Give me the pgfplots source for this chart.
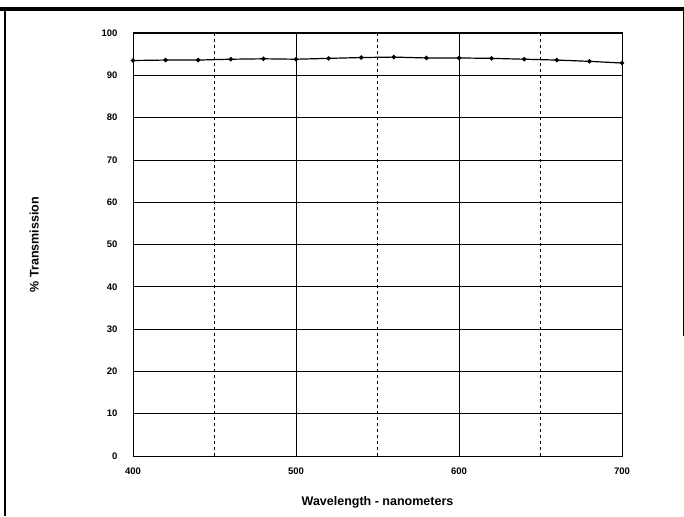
\documentclass[border=0pt]{standalone}
\usepackage{fontspec}
\setmainfont{Liberation Sans}
\usepackage{pgfplots}
\pgfplotsset{compat=1.18}
\begin{document}
\begin{tikzpicture}
\path[use as bounding box] (0pt,0pt) rectangle (684pt,516pt);
\draw[line width=3.5pt] (0pt,507pt) -- (684pt,507pt);
\draw[line width=2pt] (5pt,0pt) -- (5pt,508pt);
\draw[line width=1pt] (683pt,507pt) -- (683pt,180pt);
\begin{axis}[
  at={(133pt,60pt)}, anchor=south west,
  scale only axis, width=489pt, height=423pt,
  xmin=400, xmax=700, ymin=0, ymax=100,
  xtick={400,500,600,700}, minor xtick={450,550,650},
  ytick={0,10,...,100},
  xmajorgrids, xminorgrids, ymajorgrids,
  major grid style={black, line width=0.7pt},
  minor grid style={black, dashed, line width=0.7pt},
  major tick length=0pt, minor tick length=0pt,
  axis line style={black, line width=1pt},
  tick label style={font=\bfseries\fontsize{9.5}{10}\selectfont},
  /pgf/number format/assume math mode=true,
  xticklabel style={yshift=-8pt},
  yticklabel style={xshift=-12pt},
  xlabel={\bfseries Wavelength - nanometers},
  ylabel={\bfseries \% Transmission},
  label style={font=\bfseries\fontsize{12.5}{14}\selectfont},
  xlabel style={yshift=-15pt},
  ylabel style={yshift=56pt},
]
\addplot[black, line width=1.2pt, mark=*, mark size=1.6pt] coordinates {
(400,93.5) (420,93.6) (440,93.6) (460,93.8) (480,93.9) (500,93.8)
(520,94.0) (540,94.2) (560,94.3) (580,94.1) (600,94.1) (620,94.0)
(640,93.8) (660,93.6) (680,93.3) (700,92.9)
};
\end{axis}
\end{tikzpicture}
\end{document}
